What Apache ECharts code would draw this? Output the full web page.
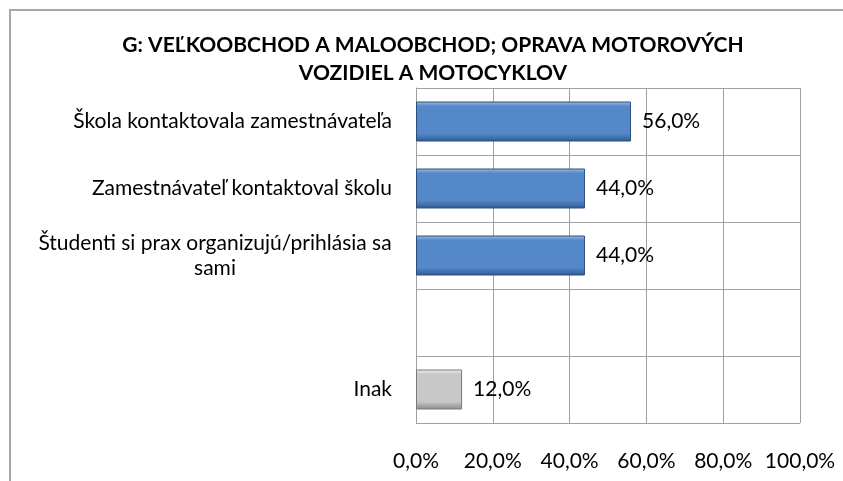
<!DOCTYPE html>
<html>
<head>
<meta charset="utf-8">
<script src="https://cdn.jsdelivr.net/npm/echarts@6/dist/echarts.min.js"></script>
<style>
  html, body { margin: 0; padding: 0; background: #ffffff; }
  #chart { width: 843px; height: 481px; }
</style>
</head>
<body>
<div id="chart"></div>
<script>
// Ways students got their practical placement (sector G), share of responses in %
const categories = [
  'Škola kontaktovala zamestnávateľa',
  'Zamestnávateľ kontaktoval školu',
  'Študenti si prax organizujú/prihlásia sa\nsami',
  '',
  'Inak'
];
const shares = [56.0, 44.0, 44.0, null, 12.0];
const axisTicks = [0, 20, 40, 60, 80, 100];
const titleLines = ['G: VEĽKOOBCHOD A MALOOBCHOD; OPRAVA MOTOROVÝCH', 'VOZIDIEL A MOTOCYKLOV'];

const FONT = 'Lato, "Open Sans", sans-serif';
const LABEL_SIZE = 21;
const pct = v => v.toFixed(1).replace('.', ',') + '%';

// width of a text run, used to centre the lines of wrapped category names
const measureCtx = document.createElement('canvas').getContext('2d');
function textWidth(s) {
  measureCtx.font = LABEL_SIZE + 'px ' + FONT;
  return Math.ceil(measureCtx.measureText(s).width);
}

// bevelled fills: light top edge, flat face, dark lower edge
function bevel(light, face, dark) {
  return new echarts.graphic.LinearGradient(0, 0, 0, 1, [
    { offset: 0, color: light },
    { offset: 0.12, color: face },
    { offset: 0.8, color: face },
    { offset: 1, color: dark }
  ]);
}
const blueFill = bevel('#9dbde6', '#5588c8', '#2f5a92');
const greyFill = bevel('#f0f0f0', '#c8c8c8', '#8a8a8a');

const chart = echarts.init(document.getElementById('chart'), null, { renderer: 'canvas' });

chart.setOption({
  animation: false,
  backgroundColor: '#ffffff',
  graphic: [
    {
      type: 'rect',
      shape: { x: 10, y: 10, width: 850, height: 500 },
      style: { fill: 'none', stroke: '#a6a6a6', lineWidth: 2 },
      silent: true
    },
    {
      type: 'text',
      x: 433,
      y: 45,
      style: {
        text: titleLines[0],
        font: 'bold 21px ' + FONT,
        fill: '#000000',
        textAlign: 'center',
        textVerticalAlign: 'middle'
      }
    },
    {
      type: 'text',
      x: 433,
      y: 73,
      style: {
        text: titleLines[1],
        font: 'bold 21px ' + FONT,
        fill: '#000000',
        textAlign: 'center',
        textVerticalAlign: 'middle'
      }
    }
  ],
  grid: { left: 416, right: 43, top: 88, bottom: 58, containLabel: false },
  xAxis: {
    type: 'value',
    min: axisTicks[0],
    max: axisTicks[axisTicks.length - 1],
    interval: axisTicks[1] - axisTicks[0],
    axisLine: { show: false },
    axisTick: { show: false },
    splitLine: { show: true, lineStyle: { color: '#a0a0a0', width: 1 } },
    axisLabel: {
      margin: 28,
      color: '#000000',
      fontSize: LABEL_SIZE,
      fontFamily: FONT,
      formatter: v => pct(v)
    }
  },
  yAxis: {
    type: 'category',
    inverse: true,
    data: categories,
    axisLine: { show: true, lineStyle: { color: '#a0a0a0', width: 1 } },
    axisTick: { show: false },
    splitLine: { show: true, lineStyle: { color: '#a0a0a0', width: 1 } },
    axisLabel: {
      margin: 24,
      color: '#000000',
      fontSize: LABEL_SIZE,
      fontFamily: FONT,
      lineHeight: 25,
      formatter: v => {
        const lines = v.split('\n');
        if (lines.length === 1) return v;
        const w = Math.max(...lines.map(textWidth));
        return lines.map(s => '{m' + w + '|' + s + '}').join('\n');
      },
      rich: Object.fromEntries(categories
        .filter(c => c.includes('\n'))
        .map(c => {
          const w = Math.max(...c.split('\n').map(textWidth));
          return ['m' + w, { width: w, align: 'center', fontSize: LABEL_SIZE, fontFamily: FONT, color: '#000000', lineHeight: 25 }];
        }))
    }
  },
  series: [{
    type: 'bar',
    data: shares.map((v, i) => ({
      value: v,
      itemStyle: i === categories.length - 1
        ? { color: greyFill, borderColor: '#7a7a7a', borderWidth: 1 }
        : { color: blueFill, borderColor: '#2c4f7c', borderWidth: 1 }
    })),
    barWidth: 40,
    label: {
      show: true,
      position: 'right',
      distance: 11,
      color: '#000000',
      fontSize: LABEL_SIZE,
      fontFamily: FONT,
      formatter: p => (p.value == null ? '' : pct(p.value))
    }
  }]
});
</script>
</body>
</html>
